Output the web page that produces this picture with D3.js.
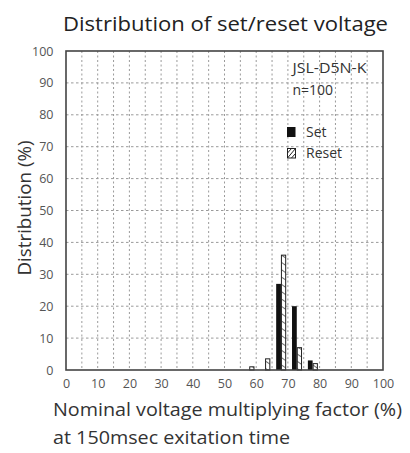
<!DOCTYPE html>
<html><head><meta charset="utf-8">
<script src="https://cdn.jsdelivr.net/npm/d3@7"></script>
<style>
html,body{margin:0;padding:0;background:#fff;}
svg text{font-family:"Open Sans","Noto Sans",sans-serif;}
</style></head>
<body>
<script>
// ---- data ----
const binStarts = [55, 60, 65, 70, 75];
const setValues = [0, 0, 27, 20, 3];
const resetValues = [1, 3.5, 36, 7, 2];
const xTicks = [0,10,20,30,40,50,60,70,80,90,100];
const yTicks = [0,10,20,30,40,50,60,70,80,90,100];
const seriesNames = ["Set", "Reset"];
const titleText = "Distribution of set/reset voltage";
const yLabelText = "Distribution (%)";
const xLabelLines = ["Nominal voltage multiplying factor (%)", "at 150msec exitation time"];
const noteLines = ["JSL-D5N-K", "n=100"];

const W = 410, H = 453;
const L = 66, R = 383, T = 51, B = 370;
const svg = d3.select("body").append("svg").attr("width", W).attr("height", H);

const defs = svg.append("defs");
const pat = defs.append("pattern").attr("id","hatch").attr("patternUnits","userSpaceOnUse")
  .attr("width",6).attr("height",6).attr("patternTransform","rotate(-55)");
pat.append("rect").attr("width",6).attr("height",6).attr("fill","#fff");
pat.append("line").attr("x1",0).attr("y1",0).attr("x2",0).attr("y2",6).attr("stroke","#222").attr("stroke-width",1.3);

const x = d3.scaleLinear().domain([0,100]).range([L,R]);
const y = d3.scaleLinear().domain([0,100]).range([B,T]);

// grid
const gx = d3.range(5,100,5);
svg.append("g").selectAll("line").data(gx).join("line")
  .attr("x1",d=>x(d)).attr("x2",d=>x(d)).attr("y1",T).attr("y2",B)
  .attr("stroke","#9a9a9a").attr("stroke-width",1).attr("stroke-dasharray","2,2.5");
const gy = d3.range(10,100,10);
svg.append("g").selectAll("line").data(gy).join("line")
  .attr("y1",d=>y(d)).attr("y2",d=>y(d)).attr("x1",L).attr("x2",R)
  .attr("stroke","#9a9a9a").attr("stroke-width",1).attr("stroke-dasharray","2.5,2.5");

// bars
const bw = 1.5;
const off = 0.3;
svg.append("g").selectAll("rect").data(binStarts).join("rect")
  .attr("x",(d)=>x(d+2.5+off-bw)).attr("width",(d)=>x(d+2.5+off)-x(d+2.5+off-bw))
  .attr("y",(d,i)=>y(setValues[i])).attr("height",(d,i)=>y(0)-y(setValues[i]))
  .attr("fill","#111");
svg.append("g").selectAll("rect").data(binStarts).join("rect")
  .attr("x",(d)=>x(d+2.5+off)+0.5).attr("width",(d)=>x(d+2.5+off+bw)-x(d+2.5+off)-0.5)
  .attr("y",(d,i)=>y(resetValues[i])).attr("height",(d,i)=>y(0)-y(resetValues[i]))
  .attr("fill","url(#hatch)").attr("stroke","#222").attr("stroke-width",1);

// frame
svg.append("rect").attr("x",L).attr("y",T).attr("width",R-L).attr("height",B-T)
  .attr("fill","none").attr("stroke","#444").attr("stroke-width",1.6);

// axes via d3 axis
const xAxis = d3.axisBottom(x).tickValues(xTicks).tickSize(0).tickPadding(9).tickFormat(d3.format("d"));
const gxa = svg.append("g").attr("transform",`translate(0,${B})`).call(xAxis);
gxa.select(".domain").remove();
gxa.selectAll("text").attr("font-size",12.5).attr("fill","#555").attr("font-family","Open Sans, sans-serif");
const yAxis = d3.axisLeft(y).tickValues(yTicks).tickSize(0).tickPadding(12.5).tickFormat(d3.format("d"));
const gya = svg.append("g").attr("transform",`translate(${L},0)`).call(yAxis);
gya.select(".domain").remove();
gya.selectAll("text").attr("font-size",12.5).attr("fill","#555").attr("font-family","Open Sans, sans-serif");

// title
svg.append("text").attr("x",63).attr("y",31).attr("font-size",20).attr("fill","#222")
  .attr("textLength",325).attr("lengthAdjust","spacingAndGlyphs").text(titleText);
// y label
svg.append("text").attr("transform",`translate(31,208) rotate(-90)`).attr("text-anchor","middle")
  .attr("font-size",19).attr("fill","#333").attr("textLength",135).attr("lengthAdjust","spacingAndGlyphs").text(yLabelText);
// x label
svg.append("text").attr("x",53).attr("y",416).attr("font-size",19).attr("fill","#333")
  .attr("textLength",349).attr("lengthAdjust","spacingAndGlyphs").text(xLabelLines[0]);
svg.append("text").attr("x",53).attr("y",444).attr("font-size",19).attr("fill","#333")
  .attr("textLength",237).attr("lengthAdjust","spacingAndGlyphs").text(xLabelLines[1]);

// note
svg.append("text").attr("x",292.5).attr("y",73).attr("font-size",14).attr("fill","#333")
  .attr("textLength",74).attr("lengthAdjust","spacingAndGlyphs").text(noteLines[0]);
svg.append("text").attr("x",292.5).attr("y",95).attr("font-size",14).attr("fill","#333").text(noteLines[1]);

// legend
const lg = svg.append("g");
lg.append("rect").attr("x",287).attr("y",127).attr("width",8.5).attr("height",10).attr("fill","#111");
lg.append("rect").attr("x",287.5).attr("y",148.5).attr("width",8).attr("height",9.5)
  .attr("fill","#fff").attr("stroke","#222").attr("stroke-width",1);
lg.append("line").attr("x1",287.5).attr("y1",158).attr("x2",295.5).attr("y2",148.5).attr("stroke","#222").attr("stroke-width",1);
lg.append("line").attr("x1",287.5).attr("y1",153).attr("x2",291.5).attr("y2",148.5).attr("stroke","#222").attr("stroke-width",1);
lg.append("line").attr("x1",291.5).attr("y1",158).attr("x2",295.5).attr("y2",153.5).attr("stroke","#222").attr("stroke-width",1);
lg.append("text").attr("x",306).attr("y",137).attr("font-size",14).attr("fill","#333").text(seriesNames[0]);
lg.append("text").attr("x",306).attr("y",158).attr("font-size",14).attr("fill","#333").text(seriesNames[1]);
</script>
</body></html>
